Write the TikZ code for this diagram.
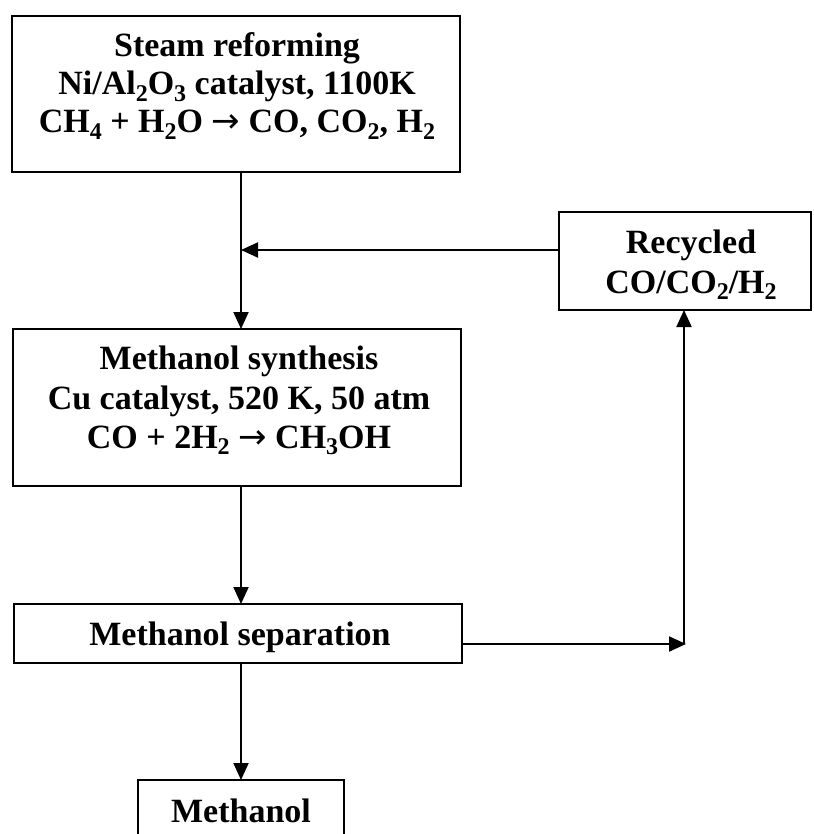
\documentclass[tikz,border=0pt]{standalone}
\usepackage{fontspec}
\setmainfont{Liberation Serif}
\newfontfamily\arrfont{DejaVu Sans}
\usetikzlibrary{arrows.meta}
\newcommand\chsub[1]{\raisebox{-0.2em}{\fontsize{24}{24}\selectfont #1}}
\newcommand\rxarrow{ {\arrfont\mdseries →} }
\begin{document}
\begin{tikzpicture}[x=1pt,y=-1pt,
  box/.style={draw, line width=2pt, inner sep=0pt, outer sep=0pt, anchor=north west},
  lbl/.style={font=\fontsize{34}{39}\selectfont\bfseries, anchor=base, inner sep=0pt},
  arr/.style={line width=2pt, -{Triangle[length=17pt,width=15pt]}}]
\useasboundingbox (0,0) rectangle (813,834);
\clip (0,0) rectangle (813,834);

% boxes
\node[box, minimum width=448pt, minimum height=156pt] (reform) at (12,16) {};
\node[box, minimum width=448pt, minimum height=157pt] (synth) at (13,329) {};
\node[box, minimum width=448pt, minimum height=59pt] (sep) at (14,604) {};
\node[box, minimum width=206pt, minimum height=90pt] (meth) at (138,780) {};
\node[box, minimum width=252pt, minimum height=98pt] (recyc) at (559,212) {};

% texts
\node[lbl] (r1) at (237,57) {Steam reforming};
\node[lbl] (r2) at (237,95) {Ni/Al\chsub{2}O\chsub{3} catalyst, 1100K};
\node[lbl] (r3) at (237,133) {CH\chsub{4} + H\chsub{2}O\rxarrow CO, CO\chsub{2}, H\chsub{2}};
\node[lbl] (s1) at (239,369) {Methanol synthesis};
\node[lbl] (s2) at (239,409) {Cu catalyst, 520 K, 50 atm};
\node[lbl] (s3) at (239,448) {CO + 2H\chsub{2}\rxarrow CH\chsub{3}OH};
\node[lbl] (p1) at (240,645) {Methanol separation};
\node[lbl] (m1) at (241,822) {Methanol};
\node[lbl] (c1) at (691,253) {Recycled};
\node[lbl] (c2) at (691,293) {CO/CO\chsub{2}/H\chsub{2}};

% helper coordinates
\coordinate (mx) at (241,0);
\coordinate (hy) at (241,250);
\coordinate (rc) at (684,644);

% connectors
\draw[arr] (reform.south -| mx) -- (synth.north -| mx);
\draw[arr] (recyc.west |- hy) -- (hy);
\draw[arr] (synth.south -| mx) -- (sep.north -| mx);
\draw[arr] (sep.south -| mx) -- (meth.north -| mx);
\draw[arr] (sep.east |- rc) -- ([xshift=2pt]rc);
\draw[arr] (rc) -- (recyc.south -| rc);
\end{tikzpicture}
\end{document}
